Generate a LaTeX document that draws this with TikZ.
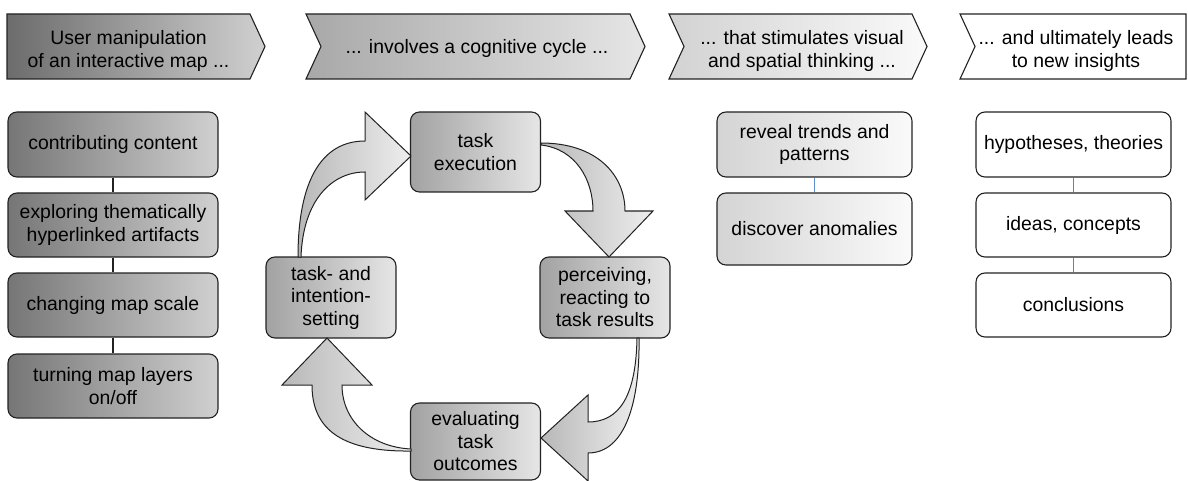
\documentclass[tikz,border=0pt]{standalone}
\usepackage{fontspec}
\setmainfont{Liberation Sans}
\definecolor{chAL}{HTML}{6C6C6C}
\definecolor{chAR}{HTML}{D0D0D0}
\definecolor{chBL}{HTML}{A8A8A8}
\definecolor{chBR}{HTML}{E6E6E6}
\definecolor{chCL}{HTML}{D2D2D2}
\definecolor{chCR}{HTML}{FAFAFA}
\definecolor{lbL}{HTML}{767676}
\definecolor{lbR}{HTML}{D0D0D0}
\definecolor{cyL}{HTML}{A2A2A2}
\definecolor{cyR}{HTML}{E6E6E6}
\definecolor{arL}{HTML}{B8B8B8}
\definecolor{arR}{HTML}{EEEEEE}
\definecolor{rvL}{HTML}{D4D4D4}
\definecolor{rvR}{HTML}{FAFAFA}
\definecolor{edge}{HTML}{222222}
\definecolor{linkblue}{HTML}{5F8FCC}
\definecolor{linkgreen}{HTML}{4CA62A}
\begin{document}
\begin{tikzpicture}[x=1pt,y=-1pt,
  txt/.style={font=\fontsize{19.4}{22.5}\selectfont, align=center},
  box/.style={txt, draw=edge, line width=1.1pt, rounded corners=9pt, inner sep=2pt},
  leftbox/.style={box, left color=lbL, right color=lbR, minimum width=210pt},
  cycbox/.style={box, left color=cyL, right color=cyR, minimum width=130pt},
  revbox/.style={box, left color=rvL, right color=rvR, minimum width=195pt},
  insbox/.style={box, fill=white, minimum width=195pt},
  chev/.style={draw=edge, line width=1.1pt, line join=miter},
  blockarrow/.style={draw=edge, line width=1pt, left color=arL, right color=arR, line join=miter},
  link/.style={draw=edge, line width=1.1pt},
  bluelink/.style={draw=linkblue, line width=1.4pt},
  greenlink/.style={draw=linkgreen, line width=1.6pt}]
\useasboundingbox (0,0) rectangle (1188,481);

% chevrons
\path[chev, left color=chAL, right color=chAR] (7,14) -- (250,14) -- (265,46.5) -- (250,79) -- (7,79) -- cycle;
\node[txt] (h1) at (128.5,51) {User manipulation\\of an interactive map ...};
\path[chev, left color=chBL, right color=chBR] (306,14) -- (630,14) -- (645,46.5) -- (630,79) -- (306,79) -- (321,46.5) -- cycle;
\node[txt] (h2) at (477,48) {... involves a cognitive cycle ...};
\path[chev, left color=chCL, right color=chCR] (669,14) -- (912,14) -- (927,46.5) -- (912,79) -- (669,79) -- (684,46.5) -- cycle;
\node[txt] (h3) at (802,51) {... that stimulates visual\\and spatial thinking ...};
\path[chev, fill=white] (960,14) -- (1186,14) -- (1186,79) -- (960,79) -- (975,46.5) -- cycle;
\node[txt] (h4) at (1076,51) {... and ultimately leads\\to new insights};

% left column
\node[leftbox, minimum height=65pt] (l1) at (113,144.5) {contributing content};
\node[leftbox, minimum height=64pt] (l2) at (113,225) {exploring thematically\\hyperlinked artifacts};
\node[leftbox, minimum height=64pt] (l3) at (113,305) {changing map scale};
\node[leftbox, minimum height=64pt] (l4) at (113,386) {turning map layers\\on/off};
\draw[link] (l1) -- (l2);
\draw[link] (l2) -- (l3);
\draw[link] (l3) -- (l4);

% cycle boxes
\node[cycbox, minimum height=80pt] (exec) at (475.5,152) {task\\execution};
\node[cycbox, minimum height=81pt] (set) at (331,297.5) {task- and\\intention-\\setting};
\node[cycbox, minimum height=81pt] (perc) at (605,297.5) {perceiving,\\reacting to\\task results};
\node[cycbox, minimum height=77pt] (eval) at (475.5,441.5) {evaluating\\task\\outcomes};

% block arrows
\path[blockarrow] (298,257) .. controls (298,180) and (322,141) .. (365,141) -- (365,112) -- (411,156) -- (365,200) -- (365,172) .. controls (332,172) and (303,200) .. (301,257) -- cycle;
\path[blockarrow] (541,143) .. controls (597,143) and (625,175) .. (625,211) -- (653,211) -- (609,257) -- (565,211) -- (593,211) .. controls (593,180) and (576,149) .. (541,145) -- cycle;
\path[blockarrow] (637,338) .. controls (636,395) and (620,422) .. (588,422) -- (588,395) -- (541,438) -- (588,481) -- (588,453) .. controls (626,453) and (640,400) .. (639,338) -- cycle;
\path[blockarrow] (411,451) .. controls (336,452) and (312,425) .. (312,385) -- (282,385) -- (327,338) -- (372,385) -- (342,385) .. controls (342,420) and (370,447) .. (411,449) -- cycle;

% column 3
\node[revbox, minimum height=65pt] (r1) at (814.5,144.5) {reveal trends and\\patterns};
\node[revbox, minimum height=72pt] (r2) at (814.5,229) {discover anomalies};
\draw[bluelink] (r1.south) -- (r2.north);

% column 4
\node[insbox, minimum height=65pt] (i1) at (1073.5,144.5) {hypotheses, theories};
\node[insbox, minimum height=64pt] (i2) at (1073.5,225) {ideas, concepts};
\node[insbox, minimum height=64pt] (i3) at (1073.5,305) {conclusions};
\draw[greenlink] (i1.south) -- (i2.north);
\draw[greenlink] (i2.south) -- (i3.north);
\end{tikzpicture}
\end{document}
